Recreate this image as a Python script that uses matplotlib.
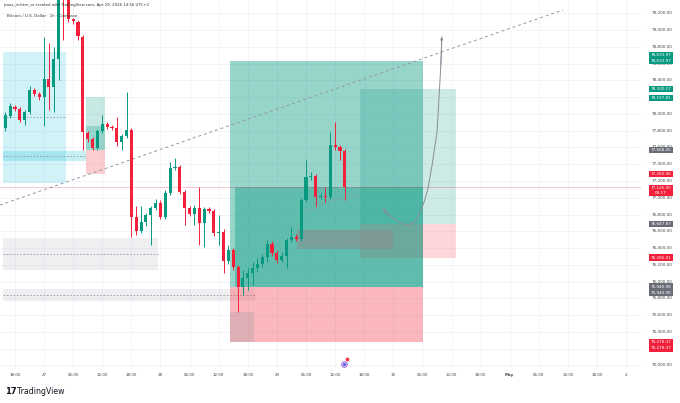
import numpy as np
import matplotlib
matplotlib.use("Agg")
import matplotlib.pyplot as plt
from matplotlib import transforms
from matplotlib.patches import Rectangle

# ---------------- data (hourly candles, index 0 = Apr 26 16:00) ----------------
opens = [77832, 77975, 78083, 78059, 77927, 78023, 78285, 78238, 78202, 78417,
         78321, 78655, 79454, 79380, 79132, 79096, 78918, 77772, 77701, 77593,
         77796, 77880, 77844, 77832, 77665, 77737, 77808, 76770, 76603, 76711,
         76794, 76878, 76937, 76770, 77057, 77355, 77367, 77068, 76878, 76806,
         76878, 76699, 76866, 76842, 76579, 76591, 76245, 76377, 76174, 75935,
         76043, 76102, 76162, 76209, 76293, 76448, 76341, 76257, 76305, 76496,
         76532, 76508, 76973, 77247, 77259, 77009, 77021, 77009, 77629, 77605,
         77558]
highs = [78023, 78130, 78106, 78083, 78047, 78333, 78309, 78261, 78918, 78846,
         78798, 79478, 79538, 79400, 79144, 79120, 78941, 77796, 77725, 77820,
         77987, 77904, 77868, 77963, 77760, 78261, 77832, 76901, 76901, 76818,
         76901, 76985, 76973, 77092, 77426, 77474, 77391, 77092, 76901, 76913,
         77128, 76890, 76890, 76866, 76794, 76627, 76436, 76400, 76197, 76138,
         76162, 76233, 76281, 76329, 76496, 76484, 76377, 76353, 76520, 76651,
         76567, 76997, 77450, 77307, 77283, 77057, 77128, 77784, 77904, 77629,
         77581]
lows = [77796, 77951, 78035, 77904, 77868, 77999, 78214, 78166, 77856, 78047,
        78023, 78405, 78882, 79096, 79073, 78882, 77570, 77665, 77570, 77570,
        77772, 77820, 77808, 77617, 77570, 77713, 76532, 76555, 76579, 76663,
        76436, 76854, 76746, 76746, 77033, 77331, 77045, 76675, 76782, 76675,
        76436, 76412, 76818, 76543, 76436, 76102, 76209, 76138, 75637, 75840,
        75899, 75959, 76114, 76174, 76233, 76305, 76221, 76233, 76162, 76472,
        76484, 76484, 76949, 77212, 76890, 76985, 76937, 76985, 77570, 77450,
        76973]
closes = [77987, 78094, 78059, 77927, 78023, 78285, 78238, 78202, 78417, 78321,
          78655, 79419, 79395, 79132, 79108, 78930, 77784, 77701, 77593, 77796,
          77880, 77844, 77832, 77665, 77737, 77808, 76770, 76603, 76711, 76794,
          76878, 76937, 76770, 77057, 77355, 77367, 77068, 76878, 76806, 76878,
          76699, 76866, 76842, 76579, 76591, 76245, 76377, 76174, 75935, 76043,
          76102, 76162, 76209, 76293, 76448, 76341, 76257, 76305, 76496, 76532,
          76508, 76973, 77247, 77259, 77009, 77021, 77009, 77629, 77605, 77558,
          77126]

time_labels = ["18:00", "27", "06:00", "12:00", "18:00", "28", "06:00", "12:00",
               "18:00", "29", "06:00", "12:00", "18:00", "30", "06:00", "12:00",
               "18:00", "May", "06:00", "12:00", "18:00", "2"]
price_levels = [75000, 75200, 75400, 75600, 75800, 76000, 76200, 76400, 76600,
                76800, 77000, 77200, 77400, 77600, 77800, 78000, 78200, 78400,
                78600, 78800, 79000, 79200]

last_price = 77126.00
countdown = "03:17"

# position tools (entry / target / stop)
posA = dict(x0=16.6, x1=20.6, entry=77568.45, target=78197.81, stop=77280.96, dark_x0=16.6, dark_top=77850)
posB = dict(x0=46.3, x1=86.1, entry=75940.98, target=78633.97, stop=75278.37, dark_x0=47.4, dark_top=77126.0)
posC = dict(x0=73.1, x1=92.9, entry=76687.87, target=78300.27, stop=76285.01)

# rectangles (x0, x1, low, high)
cyan_box = (-0.41, 12.5, 77176, 78739)
cyan_band = (-0.41, 16.6, 77438, 77558)
gray_box1 = (-0.47, 31.5, 76138, 76520)
gray_band2 = (-0.47, 51.5, 75768, 75911)
gray_box3 = (60.1, 80.0, 76388, 76615)
gray_box4 = (46.3, 51.3, 75278, 75637)

trend_x = [-1.09, 115.0]
trend_y = [76913, 79240]

arc_x = [61.4, 62.8, 64.9, 66.9, 70.0, 73.1]
arc_y = [76830, 76854, 76913, 76961, 76997, 77021]

curve_x = [77.9, 79.3, 81.0, 83.0, 84.5, 85.5, 86.5, 87.2, 88.0, 88.6, 89.0, 89.4, 89.8, 90.0]
curve_y = [76866, 76782, 76711, 76675, 76711, 76818, 76973, 77128, 77391, 77629, 77772, 78166, 78584, 78918]

tags = [("78,633.97", 78633.97, "g", 5.5), ("78,633.97", 78633.97, "g", 0.0),
        ("78,300.27", 78300.27, "g", 0.0), ("78,197.81", 78197.81, "g", -0.8),
        ("77,568.45", 77568.45, "k", 0.0), ("77,280.96", 77280.96, "r", 0.0),
        ("76,687.87", 76687.87, "k", 0.0), ("76,285.01", 76285.01, "r", 0.0),
        ("75,940.98", 75940.98, "k", 0.0), ("75,940.98", 75940.98, "k", -6.2),
        ("75,278.37", 75278.37, "r", 0.0), ("75,278.37", 75278.37, "r", -6.2)]

# ---------------- figure ----------------
W, H = 680, 403
GREEN = "#089981"
RED = "#F2203A"
GRAY = "#9598A1"
TAGC = {"g": GREEN, "r": RED, "k": "#6A6D78"}

plt.rcParams["font.family"] = ["DejaVu Sans"]
fig = plt.figure(figsize=(W / 100, H / 100), dpi=100)
fig.patch.set_facecolor("white")
ax = fig.add_axes([0, 35 / H, 641 / W, 368 / H])
ax.set_xlim(-1.09, 131.07)
ax.set_ylim(74969, 79359)
ax.set_axis_off()

tick_hours = np.arange(2, 129, 6)
ax.vlines(tick_hours, 74969, 79359, color="#F0F3FA", lw=0.6, zorder=0)
ax.hlines(price_levels, -1.09, 131.07, color="#F0F3FA", lw=0.6, zorder=0)


def rect(box, color, alpha, z=1, mid=False):
    x0, x1, y0, y1 = box
    ax.add_patch(Rectangle((x0, y0), x1 - x0, y1 - y0, facecolor=color, alpha=alpha,
                           edgecolor="none", zorder=z))
    if mid:
        ax.plot([x0, x1], [(y0 + y1) / 2] * 2, color=GRAY, lw=0.6, ls=(0, (2, 2)), zorder=z + 0.1)


rect(cyan_box, "#00BCD4", 0.18, 1, mid=True)
rect(cyan_band, "#00BCD4", 0.22, 1.2, mid=True)
rect(gray_box1, GRAY, 0.15, 1, mid=True)
rect(gray_band2, GRAY, 0.15, 1, mid=True)


def position(p, a_profit, a_stop, a_dark=None):
    rect((p["x0"], p["x1"], p["entry"], p["target"]), GREEN, a_profit, 2)
    rect((p["x0"], p["x1"], p["stop"], p["entry"]), "#F23645", a_stop, 2)
    if a_dark:
        rect((p["dark_x0"], p["x1"], p["entry"], p["dark_top"]), GREEN, a_dark, 2.1)


position(posA, 0.22, 0.25, 0.25)
position(posB, 0.42, 0.35, 0.38)
position(posC, 0.2, 0.2)
rect(gray_box3, "#8E8A8C", 0.55, 2.5, mid=True)
rect(gray_box4, GRAY, 0.25, 2.5)

ax.plot(trend_x, trend_y, color=GRAY, lw=0.7, ls=(0, (3, 3)), zorder=3)
ax.axhline(last_price, color=RED, lw=0.5, alpha=0.35, zorder=3)

# candles
x = np.arange(len(opens))
o = np.array(opens, float); c = np.array(closes, float)
hi = np.array(highs, float); lo = np.array(lows, float)
cols = [GREEN if cc >= oo else RED for oo, cc in zip(o, c)]
ax.vlines(x, lo, hi, colors=cols, lw=0.7, zorder=4)
ax.bar(x, np.maximum(np.abs(c - o), 10), bottom=np.minimum(o, c), width=0.64,
       color=cols, linewidth=0, zorder=5)

# curves / arrows
ax.plot(arc_x, arc_y, color=GRAY, lw=0.6, ls=(0, (2, 2)), zorder=6)
ax.plot(curve_x, curve_y, color="#8A8D96", lw=0.7, zorder=6)
ax.annotate("", xy=(curve_x[-1], curve_y[-1]), xytext=(curve_x[-2], curve_y[-2]),
            arrowprops=dict(arrowstyle="-|>", color="#8A8D96", lw=0.6, mutation_scale=4,
                            shrinkA=0, shrinkB=0), zorder=6)
ax.annotate("", xy=(curve_x[0], curve_y[0]), xytext=(curve_x[1], curve_y[1]),
            arrowprops=dict(arrowstyle="-|>", color="#8A8D96", lw=0.6, mutation_scale=4,
                            shrinkA=0, shrinkB=0), zorder=6)

# event marker near bottom
ax.scatter([69.8], [75017], s=16, facecolor="white", edgecolor="#8E44D9", lw=0.6,
           zorder=7, clip_on=False)
ax.scatter([69.8], [75017], s=2, color="#5B5FE0", zorder=8, clip_on=False)
ax.scatter([70.4], [75075], s=3, color="#F23645", zorder=8, clip_on=False)

# ---------------- header texts ----------------
fig.text(3 / W, 1 - 5 / H, "jonas_richter_or created with TradingView.com, Apr 29, 2026 14:56 UTC+2",
         fontsize=2.8, color="#333333", va="center", ha="left")
fig.text(7 / W, 1 - 16 / H, "Bitcoin / U.S. Dollar \u00b7 1h \u00b7 Coinbase",
         fontsize=2.9, color="#333333", va="center", ha="left", zorder=10)

# ---------------- price scale ----------------
ytr = transforms.blended_transform_factory(fig.transFigure, ax.transData)
for v in price_levels:
    fig.text(672.5 / W, v, f"{v:,.2f}", transform=ytr, fontsize=3.0, color="#444444",
             ha="right", va="center", zorder=3)

for t, p, cc, dy in tags:
    tr = transforms.offset_copy(ytr, fig=fig, x=0, y=dy, units="dots")
    fig.text(661 / W, p, t, transform=tr, fontsize=3.0, color="white", ha="center",
             va="center", zorder=4,
             bbox=dict(boxstyle="square,pad=0.3", facecolor=TAGC[cc], edgecolor="none"))

trl = transforms.offset_copy(ytr, fig=fig, x=0, y=-3.3, units="dots")
fig.text(661 / W, last_price, f"{last_price:,.2f}\n{countdown}", transform=trl, fontsize=3.0,
         color="white", ha="center", va="center", linespacing=1.05, zorder=5,
         bbox=dict(boxstyle="square,pad=0.3", facecolor=RED, edgecolor="none"))

# ---------------- time scale ----------------
xtr = transforms.blended_transform_factory(ax.transData, fig.transFigure)
for h, lab in zip(tick_hours, time_labels):
    fig.text(h, 1 - 375 / H, lab, transform=xtr, fontsize=2.9, color="#444444",
             ha="center", va="center", fontweight="bold" if lab == "May" else "normal")

# ---------------- logo ----------------
fig.text(5 / W, 1 - 392 / H, "17", fontsize=6, fontweight="heavy", color="#131722",
         ha="left", va="center")
fig.text(17 / W, 1 - 392 / H, "TradingView", fontsize=5.6, fontweight="medium",
         color="#131722", ha="left", va="center")

fig.savefig("out.png", dpi=100, facecolor="white")
